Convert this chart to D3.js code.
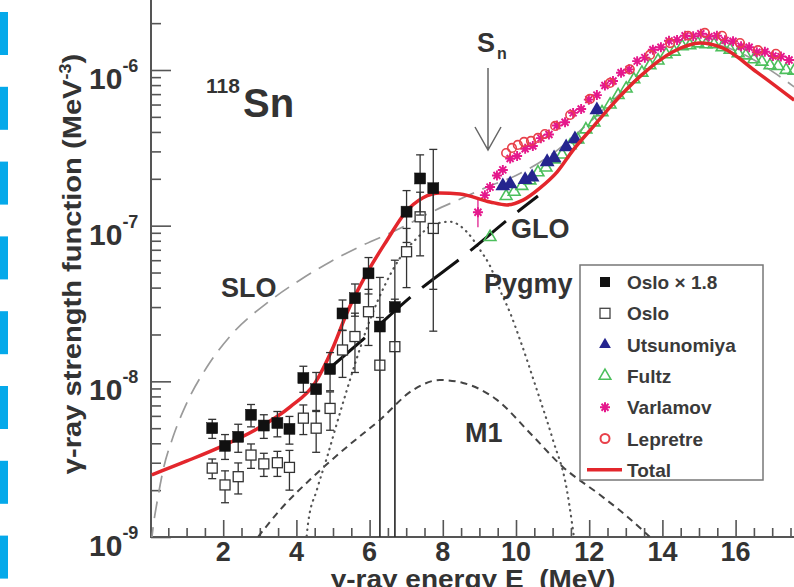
<!DOCTYPE html>
<html><head><meta charset="utf-8">
<script src="https://cdn.jsdelivr.net/npm/d3@7"></script>
<style>
html,body{margin:0;padding:0;background:#fff;}
svg{display:block;font-family:"Liberation Sans",Arial,Helvetica,sans-serif;}
</style></head><body>
<svg id="chart" width="794" height="587"></svg>
<script>
// ---------------- data ----------------
const osloScaledE = [1.70,2.05,2.41,2.76,3.11,3.48,3.81,4.19,4.54,4.92,5.26,5.60,5.97,6.28,6.69,7.01,7.38,7.74];
const osloScaledV = [5.0e-9,3.85e-9,4.4e-9,6.1e-9,5.2e-9,5.4e-9,4.95e-9,1.05e-8,8.9e-9,1.2e-8,2.73e-8,3.42e-8,4.94e-8,2.25e-8,3.0e-8,1.23e-7,2.01e-7,1.74e-7];
const osloScaledErr = [0.7e-9,0.7e-9,0.9e-9,1.0e-9,0.9e-9,1.0e-9,1.0e-9,2.0e-9,2.5e-9,3.3e-9,6e-9,8e-9,1.3e-8,2.4e-8,3.0e-8,4.5e-8,8.4e-8,1.35e-7];

const osloE = [1.70,2.05,2.41,2.76,3.11,3.48,3.81,4.19,4.54,4.92,5.26,5.60,5.97,6.28,6.69,7.01,7.38,7.74];
const osloV = [2.77e-9,2.16e-9,2.44e-9,3.36e-9,2.95e-9,3.0e-9,2.8e-9,5.8e-9,5.0e-9,6.7e-9,1.59e-8,1.94e-8,2.8e-8,1.27e-8,1.67e-8,6.8e-8,1.14e-7,9.6e-8];
const osloErr = [0.4e-9,0.5e-9,0.55e-9,0.6e-9,0.5e-9,0.55e-9,0.8e-9,1.25e-9,1.5e-9,1.85e-9,5.3e-9,8e-9,1.1e-8,1.3e-8,1.7e-8,2.8e-8,5.0e-8,7.5e-8];

const utsE = [9.64,9.84,10.25,10.44,10.85,11.04,11.37,11.61,12.21];
const utsV = [1.80e-7,1.85e-7,1.97e-7,2.05e-7,2.57e-7,2.72e-7,3.2e-7,3.6e-7,5.53e-7];

const fultzE = [9.29,9.73,9.95,10.16,10.38,10.60,10.82,11.04,11.26,11.48,11.69,11.91,12.13,12.35,12.57,12.79,13.01,13.22,13.44,13.66,13.88,14.10,14.32,14.54,14.75,14.97,15.19,15.41,15.63,15.85,16.07,16.28,16.50,16.72,16.94,17.16,17.38,17.60];
const fultzV = [8.45e-8,1.55e-7,1.65e-7,1.80e-7,1.95e-7,2.20e-7,2.36e-7,2.66e-7,2.86e-7,3.28e-7,3.57e-7,4.15e-7,4.60e-7,5.35e-7,6.00e-7,6.90e-7,7.60e-7,8.70e-7,9.6e-7,1.07e-6,1.15e-6,1.26e-6,1.31e-6,1.42e-6,1.44e-6,1.48e-6,1.46e-6,1.46e-6,1.40e-6,1.35e-6,1.28e-6,1.24e-6,1.17e-6,1.13e-6,1.07e-6,1.06e-6,1.00e-6,9.9e-7];

const varE = [8.96,9.15,9.29,9.48,9.64,9.84,10.03,10.25,10.46,10.68,10.90,11.12,11.34,11.56,11.78,11.99,12.21,12.43,12.65,12.87,13.09,13.31,13.52,13.74,13.96,14.18,14.40,14.62,14.84,15.05,15.27,15.49,15.71,15.93,16.15,16.37,16.58,16.80,17.02,17.24,17.46];
const varV = [1.22e-7,1.57e-7,1.77e-7,2.10e-7,2.28e-7,2.70e-7,2.80e-7,3.12e-7,3.25e-7,3.65e-7,3.85e-7,4.40e-7,4.62e-7,5.30e-7,5.62e-7,6.45e-7,6.90e-7,7.95e-7,8.50e-7,9.60e-7,1.01e-6,1.14e-6,1.20e-6,1.35e-6,1.40e-6,1.54e-6,1.56e-6,1.66e-6,1.65e-6,1.71e-6,1.64e-6,1.66e-6,1.55e-6,1.53e-6,1.42e-6,1.40e-6,1.30e-6,1.31e-6,1.23e-6,1.22e-6,1.16e-6];

const lepE = [9.73,9.89,10.05,10.22,10.41,10.60,10.79,11.07,11.48,12.02,12.57,13.11,13.66,14.21,14.70,15.16,15.63,16.12,16.61,17.10];
const lepV = [2.93e-7,3.16e-7,3.3e-7,3.45e-7,3.5e-7,3.66e-7,3.88e-7,4.37e-7,5.14e-7,6.52e-7,8.26e-7,1.01e-6,1.25e-6,1.49e-6,1.66e-6,1.73e-6,1.66e-6,1.49e-6,1.34e-6,1.27e-6];

const totalE = [0.05,1.01,1.99,2.92,3.83,4.51,4.97,5.38,5.93,6.48,6.97,7.46,7.92,8.47,9.29,9.75,10.19,10.66,11.12,11.56,12.10,12.57,13.39,14.29,15.03,15.66,16.58,17.60];
const totalV = [2.51e-9,3.08e-9,3.85e-9,4.94e-9,6.85e-9,9.77e-9,1.59e-8,2.75e-8,4.97e-8,8.09e-8,1.21e-7,1.51e-7,1.62e-7,1.60e-7,1.42e-7,1.36e-7,1.46e-7,1.75e-7,2.21e-7,3.06e-7,4.30e-7,5.78e-7,9.1e-7,1.31e-6,1.49e-6,1.38e-6,9.7e-7,6.4e-7];

const sloE = [0.03,0.10,0.19,0.36,0.63,1.01,1.56,2.27,3.20,4.10,4.92,5.82,6.75,7.65,8.55,9.21,10.0,11.0,12.0,13.0,14.0,15.0,16.0,17.0,17.6];
const sloV = [9e-10,1.23e-9,1.66e-9,2.7e-9,4.4e-9,7.3e-9,1.24e-8,2.05e-8,3.19e-8,4.48e-8,5.85e-8,7.5e-8,9.4e-8,1.21e-7,1.51e-7,1.77e-7,2.1e-7,2.9e-7,4.6e-7,7.6e-7,1.2e-6,1.5e-6,1.33e-6,9.8e-7,7.8e-7];

const gloE = [4.92,5.87,7.19,8.61,10.03,10.60];
const gloV = [1.22e-8,1.90e-8,3.59e-8,6.49e-8,1.22e-7,1.55e-7];

const pygE = [4.25,4.32,4.56,4.84,5.11,5.38,5.66,6.01,6.42,6.83,7.30,7.73,8.20,8.66,9.02,9.29,9.56,9.84,10.11,10.57,11.01,11.39,11.53,11.61];
const pygV = [8.5e-10,1.23e-9,2.01e-9,3.27e-9,5.41e-9,8.81e-9,1.43e-8,2.48e-8,4.16e-8,6.2e-8,8.34e-8,1.01e-7,1.06e-7,9.1e-8,6.98e-8,5.51e-8,3.86e-8,2.75e-8,1.85e-8,8.81e-9,4.2e-9,2.01e-9,1.23e-9,8.9e-10];

const m1E = [2.95,3.55,4.45,5.38,6.28,7.19,7.92,8.55,9.48,10.38,11.28,12.30,12.98,13.66];
const m1V = [1.0e-9,1.49e-9,2.43e-9,3.79e-9,5.65e-9,8.81e-9,1.02e-8,9.77e-9,7.6e-9,4.66e-9,2.82e-9,1.86e-9,1.39e-9,1.0e-9];

const xTickValues = [2,4,6,8,10,12,14,16];
const xTickLabels = ["2","4","6","8","10","12","14","16"];
const yTickExponents = [-9,-8,-7,-6];
const yTickLabels = ["-9","-8","-7","-6"];
const legendLabels = ["Oslo \u00d7 1.8","Oslo","Utsunomiya","Fultz","Varlamov","Lepretre","Total"];

// ---------------- drawing ----------------
const W = 794, H = 587;
const x = d3.scaleLinear().domain([0, 18]).range([150, 150 + 18 * 36.6]);
const y = d3.scaleLog().domain([1e-9, 1e-6]).range([537, 70]);
const TXT = "#333";

const svg = d3.select("#chart");
svg.append("rect").attr("width", W).attr("height", H).attr("fill", "#fff");

// decorative side bars
svg.selectAll("rect.side").data(d3.range(8)).join("rect")
  .attr("x", 0).attr("y", i => 12 + i * 74.8).attr("width", 8).attr("height", 43)
  .attr("fill", "#05a9ea");

svg.append("defs").append("clipPath").attr("id", "plotclip")
  .append("rect").attr("x", 151).attr("y", 0).attr("width", W - 151).attr("height", 537);

// axes
const yMinor = [];
for (let k = -9; k <= -6; k++) for (let m = 2; m <= 9; m++) { const v = m * Math.pow(10, k); if (y(v) >= 0) yMinor.push(v); }
const yMajor = yTickExponents.map(e => Math.pow(10, e));
const xMinor = d3.range(0.5, 18, 0.5).filter(v => v % 2 !== 0 && x(v) < W);

const gyMin = svg.append("g").attr("transform", "translate(151,0)")
  .call(d3.axisRight(y).tickValues(yMinor).tickSize(10).tickSizeOuter(0).tickFormat(""));
const gyMaj = svg.append("g").attr("transform", "translate(151,0)")
  .call(d3.axisRight(y).tickValues(yMajor).tickSize(20).tickSizeOuter(0).tickFormat(""));
const gxMin = svg.append("g").attr("transform", "translate(0,537)")
  .call(d3.axisTop(x).tickValues(xMinor).tickSize(9).tickSizeOuter(0).tickFormat(""));
const gxMaj = svg.append("g").attr("transform", "translate(0,537)")
  .call(d3.axisTop(x).tickValues(xTickValues).tickSize(17).tickSizeOuter(0).tickFormat(""));
[gyMin, gyMaj, gxMin, gxMaj].forEach(g => {
  g.select(".domain").remove();
  g.selectAll(".tick line").attr("stroke", "#555").attr("stroke-width", 1.6);
});
svg.append("line").attr("x1", 151).attr("y1", 0).attr("x2", 151).attr("y2", 537).attr("stroke", "#555").attr("stroke-width", 2);
svg.append("line").attr("x1", 150).attr("y1", 537).attr("x2", W).attr("y2", 537).attr("stroke", "#555").attr("stroke-width", 2);

// tick labels
svg.selectAll("text.xt").data(xTickValues).join("text")
  .attr("x", d => x(d)).attr("y", 561).attr("text-anchor", "middle")
  .attr("font-size", 27).attr("font-weight", "bold").attr("fill", TXT)
  .text((d, i) => xTickLabels[i]);
yTickExponents.forEach((e, i) => {
  const t = svg.append("text").attr("x", 89).attr("y", y(Math.pow(10, e)) + 19)
    .attr("font-weight", "bold").attr("fill", TXT);
  t.append("tspan").attr("font-size", 30).text("10");
  t.append("tspan").attr("font-size", 18).attr("dy", -17).text(yTickLabels[i]);
});

// axis titles
const yt = svg.append("text").attr("transform", "translate(81,264) rotate(-90) scale(1.12,1)")
  .attr("text-anchor", "middle").attr("font-size", 26).attr("font-weight", "bold").attr("fill", TXT);
yt.append("tspan").text("\u03b3-ray strength function (MeV");
yt.append("tspan").attr("font-size", 16).attr("dy", -10).text("-3");
yt.append("tspan").attr("dy", 10).text(")");
svg.append("text").attr("transform", "translate(473,588) scale(1.12,1)")
  .attr("text-anchor", "middle").attr("font-size", 25).attr("font-weight", "bold").attr("fill", TXT)
  .style("white-space", "pre").text("\u03b3-ray energy E  (MeV)");

// plot content
const plot = svg.append("g").attr("clip-path", "url(#plotclip)");
const zip = (E, V) => E.map((e, i) => ({ e, v: V[i] }));
const line = d3.line().x(d => x(d.e)).y(d => y(d.v)).curve(d3.curveMonotoneX);

plot.append("path").datum(zip(sloE, sloV)).attr("d", line).attr("fill", "none")
  .attr("stroke", "#9a9a9a").attr("stroke-width", 1.7).attr("stroke-dasharray", "17,9");
plot.append("path").datum(zip(m1E, m1V)).attr("d", line).attr("fill", "none")
  .attr("stroke", "#444").attr("stroke-width", 2).attr("stroke-dasharray", "7,5");
plot.append("path").datum(zip(pygE, pygV)).attr("d", line).attr("fill", "none")
  .attr("stroke", "#555").attr("stroke-width", 2.2).attr("stroke-linecap", "round").attr("stroke-dasharray", "0.5,5.5");
plot.append("path").datum(zip(gloE, gloV)).attr("d", line).attr("fill", "none")
  .attr("stroke", "#111").attr("stroke-width", 3).attr("stroke-dasharray", "46,15");

// GDR data
const triSym = d3.symbol().type(d3.symbolTriangle);
plot.selectAll("path.fultz").data(zip(fultzE, fultzV)).join("path")
  .attr("transform", d => `translate(${x(d.e)},${y(d.v)})`).attr("d", triSym.size(60)())
  .attr("fill", "none").attr("stroke", "#4cbf5c").attr("stroke-width", 1.6);
plot.selectAll("path.uts").data(zip(utsE, utsV)).join("path")
  .attr("transform", d => `translate(${x(d.e)},${y(d.v)})`).attr("d", triSym.size(95)())
  .attr("fill", "#25258f");
const ast = r => `M${-r},0L${r},0M0,${-r}L0,${r}M${-r*0.7},${-r*0.7}L${r*0.7},${r*0.7}M${-r*0.7},${r*0.7}L${r*0.7},${-r*0.7}`;
plot.append("line").attr("x1", x(varE[0])).attr("x2", x(varE[0]))
  .attr("y1", y(varV[0] * 1.25)).attr("y2", y(varV[0] * 0.8)).attr("stroke", "#e0208f").attr("stroke-width", 1.3);
plot.selectAll("path.var").data(zip(varE, varV)).join("path")
  .attr("transform", d => `translate(${x(d.e)},${y(d.v)})`).attr("d", ast(5))
  .attr("fill", "none").attr("stroke", "#e5188c").attr("stroke-width", 1.9);
plot.selectAll("circle.lep").data(zip(lepE, lepV)).join("circle")
  .attr("cx", d => x(d.e)).attr("cy", d => y(d.v)).attr("r", 4.3)
  .attr("fill", "none").attr("stroke", "#e8404a").attr("stroke-width", 1.6);

// total
plot.append("path").datum(zip(totalE, totalV)).attr("d", line).attr("fill", "none")
  .attr("stroke", "#e3262c").attr("stroke-width", 3.5);

// Oslo data with error bars
function drawOslo(E, V, S, filled, size) {
  const g = plot.append("g");
  E.forEach((e, i) => {
    const cx = x(e), v = V[i], s = S[i];
    const yt = y(v + s);
    const lowClipped = (v - s) <= 1e-9;
    const yb = lowClipped ? 540 : y(v - s);
    g.append("line").attr("x1", cx).attr("x2", cx).attr("y1", yt).attr("y2", yb).attr("stroke", "#333").attr("stroke-width", 1.3);
    g.append("line").attr("x1", cx - 4).attr("x2", cx + 4).attr("y1", yt).attr("y2", yt).attr("stroke", "#333").attr("stroke-width", 1.3);
    if (!lowClipped) g.append("line").attr("x1", cx - 4).attr("x2", cx + 4).attr("y1", yb).attr("y2", yb).attr("stroke", "#333").attr("stroke-width", 1.3);
    g.append("rect").attr("x", cx - size / 2).attr("y", y(v) - size / 2).attr("width", size).attr("height", size)
      .attr("fill", filled ? "#111" : "#fff").attr("stroke", filled ? "#111" : "#333").attr("stroke-width", filled ? 0.5 : 1.3);
  });
}
drawOslo(osloE, osloV, osloErr, false, 10);
drawOslo(osloScaledE, osloScaledV, osloScaledErr, true, 11);

// annotations
const ann = (t, xx, yy, fs) => svg.append("text").attr("x", xx).attr("y", yy).attr("font-size", fs)
  .attr("font-weight", "bold").attr("fill", TXT).text(t);
ann("SLO", 221, 297, 27);
ann("GLO", 511, 238, 27);
ann("Pygmy", 484, 293, 27);
ann("M1", 465, 442, 27);
ann("118", 206, 93, 21);
ann("Sn", 243, 117, 40);
ann("S", 477, 52, 27);
ann("n", 497, 59, 16);
svg.append("path").attr("d", "M488,68L488,150M475,127L488,150L501,127")
  .attr("fill", "none").attr("stroke", "#666").attr("stroke-width", 1.5);

// legend
const lg = svg.append("g");
lg.append("rect").attr("x", 580).attr("y", 265).attr("width", 183).attr("height", 215)
  .attr("fill", "#fff").attr("stroke", "#777").attr("stroke-width", 1.5);
legendLabels.forEach((lab, i) => {
  const cy = 282 + i * 31.3, mx = 605;
  if (i === 0) lg.append("rect").attr("x", mx - 5).attr("y", cy - 5).attr("width", 10).attr("height", 10).attr("fill", "#111");
  if (i === 1) lg.append("rect").attr("x", mx - 5).attr("y", cy - 5).attr("width", 10).attr("height", 10).attr("fill", "#fff").attr("stroke", "#444").attr("stroke-width", 1.3);
  if (i === 2) lg.append("path").attr("transform", `translate(${mx},${cy})`).attr("d", triSym.size(60)()).attr("fill", "#25258f");
  if (i === 3) lg.append("path").attr("transform", `translate(${mx},${cy})`).attr("d", triSym.size(60)()).attr("fill", "none").attr("stroke", "#4cbf5c").attr("stroke-width", 1.5);
  if (i === 4) lg.append("path").attr("transform", `translate(${mx},${cy})`).attr("d", ast(5)).attr("fill", "none").attr("stroke", "#e5188c").attr("stroke-width", 2);
  if (i === 5) lg.append("circle").attr("cx", mx).attr("cy", cy).attr("r", 4.5).attr("fill", "none").attr("stroke", "#e8404a").attr("stroke-width", 2);
  if (i === 6) lg.append("line").attr("x1", 587).attr("x2", 622).attr("y1", cy).attr("y2", cy).attr("stroke", "#e3262c").attr("stroke-width", 3.5);
  lg.append("text").attr("x", 627).attr("y", cy + 7).attr("font-size", 19).attr("font-weight", "bold").attr("fill", "#3a3a3a").text(lab);
});
</script></body></html>
